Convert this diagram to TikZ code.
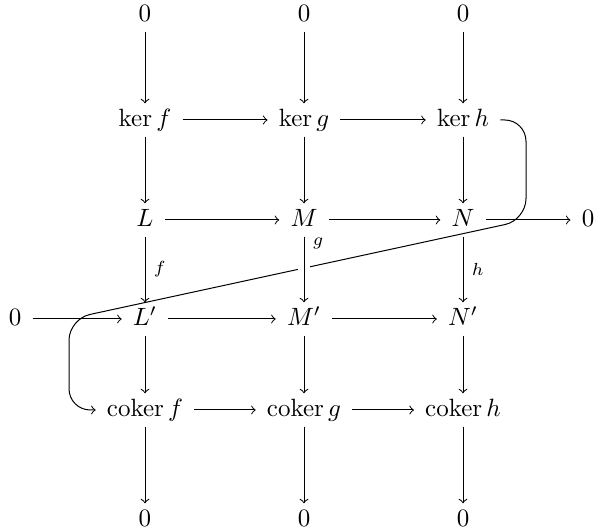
\documentclass[tikz,border=0pt]{standalone}
\usepackage{amsmath}
\usepackage{tikz}

\begin{document}
\begin{tikzpicture}[x=0.4pt,y=-0.4pt]
  \tikzset{
    obj/.style={inner xsep=1ex,inner ysep=0.4ex,text height=1.75ex,text depth=0.45ex},
    arr/.style={->},
    lab/.style={font=\scriptsize,anchor=west},
    over/.style={preaction={draw=white,line width=5pt,-}},
    snake/.style={->,rounded corners=8.5pt}
  }
  \useasboundingbox (0,0) rectangle (595,532);

  % the three columns
  \foreach \c/\x/\B in {f/145/L,g/304/M,h/463/N}{
    \node[obj] (t\c) at (\x,15)  {$0$};
    \node[obj] (k\c) at (\x,120) {$\ker \c$};
    \node[obj] (m\c) at (\x,220) {$\B$};
    \node[obj] (p\c) at (\x,319) {$\B'$};
    \node[obj] (c\c) at (\x,410) {$\operatorname{coker} \c$};
    \node[obj] (b\c) at (\x,520) {$0$};
  }
  \node[obj] (zl) at (15,319)  {$0$};
  \node[obj] (zr) at (588,220) {$0$};

  \foreach \row in {k,m,p,c}
    {\draw[arr] (\row f) -- (\row g); \draw[arr] (\row g) -- (\row h);}
  \foreach \c in {f,g,h}{
    \draw[arr] (t\c) -- (k\c);
    \draw[arr] (k\c) -- (m\c);
    \draw[arr] (p\c) -- (c\c);
    \draw[arr] (c\c) -- (b\c);
  }
  \draw[arr] (zl) -- (pf);
  \draw[arr] (mh) -- (zr);

  % connecting map
  \coordinate (sR) at (526,0);
  \coordinate (sL) at (69,0);
  \draw[snake] (kh.east) -- (kh.east -| sR) -- (mh.center -| sR)
    -- (pf.center -| sL) -- (cf.west -| sL) -- (cf.west);

  \draw[arr] (mf) -- (pf) node[lab,midway] {$f$};
  \draw[arr,over] (mg) -- (pg) node[lab,pos=0.1] {$g$};
  \draw[arr] (mh) -- (ph) node[lab,midway] {$h$};
\end{tikzpicture}
\end{document}
